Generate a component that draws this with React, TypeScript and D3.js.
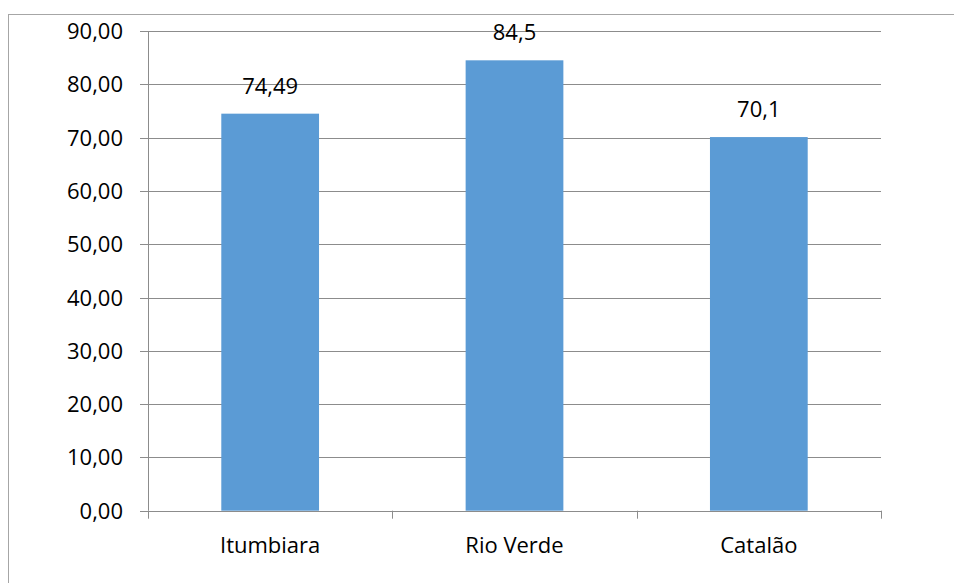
import React from "react";
import * as d3 from "d3";

const categories = ["Itumbiara", "Rio Verde", "Catalão"];
const values = [74.49, 84.5, 70.1];
const valueLabels = ["74,49", "84,5", "70,1"];
const yTicks = [0, 10, 20, 30, 40, 50, 60, 70, 80, 90];

export default function App() {
  const W = 954, H = 583;
  const left = 148, right = 881, top = 31, bottom = 510.7;
  const x = d3.scaleBand<string>().domain(categories).range([left, right]).paddingInner(0.6).paddingOuter(0.3);
  const xb = d3.scaleBand<string>().domain(categories).range([left, right]);
  const y = d3.scaleLinear().domain([0, 90]).range([bottom, top]);
  const font = "'Open Sans', sans-serif";
  const fs = 22;
  const fmt = (v: number) => v.toFixed(2).replace(".", ",");
  return (
    <svg width={W} height={H} style={{ position: "absolute", left: 0, top: 0, display: "block" }}>
      <rect x={0} y={0} width={W} height={H} fill="#fff" />
      <rect x={8.5} y={14.5} width={W + 10} height={H + 10} fill="none" stroke="#a6a6a6" strokeWidth={1} />
      {yTicks.map((t) => (
        <g key={t}>
          <line x1={140} x2={right} y1={Math.round(y(t)) + 0.5} y2={Math.round(y(t)) + 0.5} stroke="#8c8c8c" strokeWidth={1} />
          <text x={123} y={y(t) + 8} textAnchor="end" fontFamily={font} fontSize={fs} fill="#000">{fmt(t)}</text>
        </g>
      ))}
      {categories.map((c, i) => (
        <g key={c}>
          <rect x={x(c)} y={y(values[i])} width={x.bandwidth()} height={bottom - y(values[i])} fill="#5b9bd5" />
          <text x={x(c)! + x.bandwidth() / 2} y={y(values[i]) - 20} textAnchor="middle" fontFamily={font} fontSize={fs} fill="#000">{valueLabels[i]}</text>
          <text x={xb(c)! + xb.bandwidth() / 2} y={553} textAnchor="middle" fontFamily={font} fontSize={fs} fill="#000">{c}</text>
        </g>
      ))}
      <line x1={left + 0.5} x2={left + 0.5} y1={top} y2={bottom} stroke="#8c8c8c" />
      <line x1={left} x2={right} y1={Math.round(bottom) + 0.5} y2={Math.round(bottom) + 0.5} stroke="#8c8c8c" />
      {[...categories.map((c) => xb(c)!), right].map((v, i) => (
        <line key={i} x1={Math.round(v) + 0.5} x2={Math.round(v) + 0.5} y1={bottom} y2={bottom + 8} stroke="#8c8c8c" />
      ))}
    </svg>
  );
}
